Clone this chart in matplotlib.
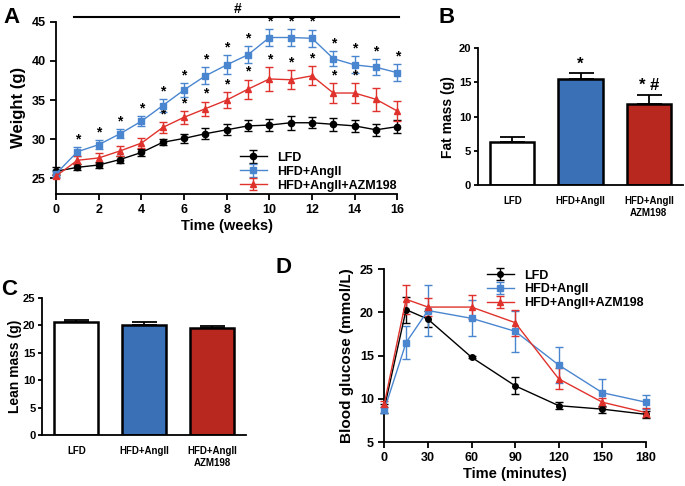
import matplotlib.pyplot as plt

plt.rcParams['font.family'] = ['Liberation Sans', 'DejaVu Sans']
plt.rcParams['font.weight'] = 'bold'

# Panel A: body weight over 16 weeks
weeks = list(range(17))
lfd_w = [25.9, 26.4, 26.7, 27.4, 28.3, 29.6, 30.1, 30.7, 31.2, 31.7, 31.8, 32.1, 32.1, 31.9, 31.7, 31.2, 31.6]
lfd_w_err = [0.5, 0.4, 0.4, 0.4, 0.4, 0.4, 0.6, 0.7, 0.7, 0.7, 0.8, 0.9, 0.7, 0.8, 0.8, 0.8, 0.8]
hfd_w = [25.6, 28.4, 29.3, 30.7, 32.3, 34.3, 36.3, 38.1, 39.5, 40.8, 43.0, 43.0, 42.9, 40.3, 39.5, 39.2, 38.5]
hfd_w_err = [0.5, 0.6, 0.6, 0.6, 0.6, 0.8, 0.9, 1.1, 1.2, 1.1, 1.1, 1.1, 1.1, 1.0, 1.1, 1.0, 1.1]
azm_w = [25.3, 27.3, 27.6, 28.5, 29.5, 31.5, 32.8, 33.9, 35.0, 36.4, 37.7, 37.6, 38.1, 35.9, 35.9, 35.1, 33.6]
azm_w_err = [0.3, 0.5, 0.6, 0.6, 0.6, 0.7, 0.8, 0.9, 1.0, 1.2, 1.5, 1.2, 1.2, 1.3, 1.3, 1.5, 1.3]
hfd_star_weeks = list(range(1, 17))
azm_star_weeks = list(range(5, 15))

# Panels B and C: body composition
groups = ['LFD', 'HFD+AngII', 'HFD+AngII\nAZM198']
fat = [6.3, 15.5, 11.8]
fat_err = [0.7, 0.9, 1.4]
fat_marks = ['', '*', '* #']
lean = [20.6, 20.1, 19.5]
lean_err = [0.4, 0.5, 0.3]

# Panel D: glucose tolerance
minutes = [0, 15, 30, 60, 90, 120, 150, 180]
lfd_g = [8.9, 20.3, 19.2, 14.8, 11.5, 9.2, 8.8, 8.2]
lfd_g_err = [0.5, 1.5, 0.9, 0.1, 1.0, 0.4, 0.4, 0.4]
hfd_g = [8.7, 16.5, 20.2, 19.3, 17.8, 13.9, 10.7, 9.6]
hfd_g_err = [0.3, 1.9, 3.0, 2.1, 2.4, 2.1, 1.6, 0.8]
azm_g = [9.4, 21.5, 20.6, 20.6, 18.8, 12.3, 9.6, 8.4]
azm_g_err = [0.3, 1.7, 1.0, 1.4, 1.5, 1.2, 0.5, 0.5]

line_names = ['LFD', 'HFD+AngII', 'HFD+AngII+AZM198']
line_colors = ['black', '#4a86d0', '#e0322c']
line_markers = ['o', 's', '^']
bar_colors = ['white', '#3a70b5', '#b8281f']


def style_axis(ax):
    for side in ['top', 'right']:
        ax.spines[side].set_visible(False)
    for side in ['left', 'bottom']:
        ax.spines[side].set_linewidth(1.3)
    ax.tick_params(width=1.3, length=4, labelsize=9)


def draw_lines(ax, x, series, ms):
    for (y, err), name, c, m in zip(series, line_names, line_colors, line_markers):
        ax.errorbar(x, y, yerr=err, color=c, marker=m, markersize=ms, lw=1,
                    elinewidth=1, capsize=3, capthick=1, label=name, clip_on=False, zorder=3)


def draw_bars(ax, values, errs, ymax, step):
    x = range(len(values))
    ax.bar(x, values, width=0.65, color=bar_colors, edgecolor='black', linewidth=1.8, zorder=2)
    ax.errorbar(x, values, yerr=[[0] * len(errs), errs], fmt='none', ecolor='black',
                elinewidth=1.3, capsize=9, capthick=1.3, zorder=1)
    ax.set_xlim(-0.5, 2.5)
    ax.set_ylim(0, ymax)
    ax.set_yticks(range(0, ymax + 1, step))
    ax.set_xticks(list(x))
    ax.set_xticklabels(groups, fontsize=7)
    style_axis(ax)
    ax.tick_params(axis='x', length=0, pad=8, labelsize=7)
    ax.tick_params(axis='y', labelsize=8, length=3, pad=2)


fig = plt.figure(figsize=(6.85, 4.86), dpi=100)

# A
axA = fig.add_axes([0.082, 0.601, 0.498, 0.354])
draw_lines(axA, weeks, [(lfd_w, lfd_w_err), (hfd_w, hfd_w_err), (azm_w, azm_w_err)], 4.5)
axA.set_xlim(0, 16)
axA.set_ylim(23, 45)
axA.set_xticks(range(0, 17, 2))
axA.set_yticks(range(25, 46, 5))
axA.set_xlabel('Time (weeks)', fontsize=10.5, fontweight='bold', labelpad=2)
axA.set_ylabel('Weight (g)', fontsize=12, fontweight='bold')
style_axis(axA)
for w in hfd_star_weeks:
    axA.text(w, hfd_w[w] + hfd_w_err[w] + 0.1, '*', ha='center', va='bottom', fontsize=10)
for w in azm_star_weeks:
    axA.text(w, azm_w[w] + azm_w_err[w] + 0.1, '*', ha='center', va='bottom', fontsize=10)
axA.plot([0.85, 16.1], [45.6, 45.6], color='black', lw=1.5, clip_on=False)
axA.text(8.5, 45.8, '#', ha='center', va='bottom', fontsize=10)
axA.legend(loc='lower right', bbox_to_anchor=(1.02, -0.03), frameon=False, fontsize=9,
           handlelength=2.2, labelspacing=0.15, borderaxespad=0.2)
fig.text(0.005, 0.965, 'A', fontsize=16, fontweight='bold', va='center')

# B
axB = fig.add_axes([0.698, 0.619, 0.299, 0.282])
draw_bars(axB, fat, fat_err, 20, 5)
axB.set_ylabel('Fat mass (g)', fontsize=10, fontweight='bold', labelpad=3)
for i, mark in enumerate(fat_marks):
    if mark:
        axB.text(i, fat[i] + fat_err[i] + 0.2, mark, ha='center', va='bottom', fontsize=12)
fig.text(0.64, 0.965, 'B', fontsize=16, fontweight='bold', va='center')

# C
axC = fig.add_axes([0.062, 0.105, 0.297, 0.282])
draw_bars(axC, lean, lean_err, 25, 5)
axC.set_ylabel('Lean mass (g)', fontsize=10, fontweight='bold', labelpad=1)
fig.text(0.002, 0.405, 'C', fontsize=16, fontweight='bold', va='center')

# D
axD = fig.add_axes([0.561, 0.0905, 0.382, 0.356])
draw_lines(axD, minutes, [(lfd_g, lfd_g_err), (hfd_g, hfd_g_err), (azm_g, azm_g_err)], 4)
axD.set_xlim(0, 180)
axD.set_ylim(5, 25)
axD.set_xticks(range(0, 181, 30))
axD.set_yticks(range(5, 26, 5))
axD.set_xlabel('Time (minutes)', fontsize=10.5, fontweight='bold', labelpad=2)
axD.set_ylabel('Blood glucose (mmol/L)', fontsize=11, fontweight='bold')
style_axis(axD)
axD.legend(loc='upper right', bbox_to_anchor=(1.02, 1.04), frameon=False, fontsize=9,
           handlelength=2.2, labelspacing=0.15, borderaxespad=0.2)
fig.text(0.402, 0.45, 'D', fontsize=16, fontweight='bold', va='center')

fig.savefig('out.png', dpi=100)
